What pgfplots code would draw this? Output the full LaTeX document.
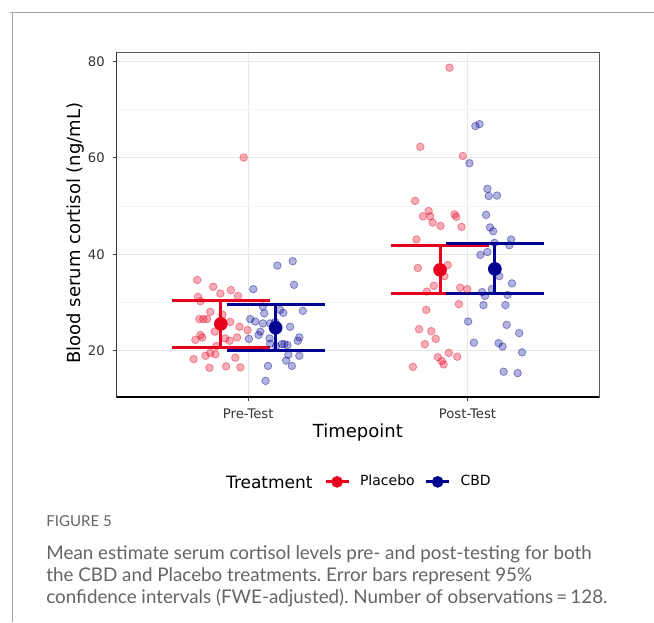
\documentclass[border=0pt]{standalone}
\usepackage{fontspec}
\setmainfont{DejaVu Sans}
\newfontfamily\capfont{Lato}
\usepackage{pgfplots}
\usepackage{pgfplotstable}
\pgfplotsset{compat=1.18}
\frenchspacing

\definecolor{plac}{RGB}{230,0,30}
\definecolor{cbd}{RGB}{0,0,145}
\definecolor{gridc}{RGB}{232,232,232}
\definecolor{capgray}{RGB}{100,100,100}

\pgfplotsset{
  placleg/.style={legend image code/.code={
    \draw[plac, line width=1.45pt] (0pt,0pt) -- (11.5pt,0pt);
    \fill[plac] (5.75pt,0pt) circle (2.7pt);}},
  cbdleg/.style={legend image code/.code={
    \draw[cbd, line width=1.45pt] (0pt,0pt) -- (11.5pt,0pt);
    \fill[cbd] (5.75pt,0pt) circle (2.7pt);}},
  ebar/.style={line width=1.5pt, line cap=butt, forget plot, #1},
}

\pgfplotstableread{
x y
0.767 34.7
0.840 33.3
0.873 31.9
0.921 32.6
0.953 31.4
0.771 31.2
0.827 28.1
0.777 26.6
0.795 26.6
0.812 26.6
0.847 24.0
0.960 25.0
0.997 24.3
0.782 23.3
0.790 22.8
0.759 22.3
0.895 22.6
0.915 22.1
0.949 22.8
0.827 19.6
0.805 19.0
0.850 19.3
0.751 18.3
0.941 18.6
0.823 16.5
0.899 16.8
0.964 16.6
0.979 60.1
0.882 27.5
0.855 21.0
0.782 30.3
0.918 26.0
1.918 78.7
1.785 62.3
1.979 60.4
1.761 51.1
1.823 49.0
1.797 47.9
1.830 47.9
1.841 46.6
1.877 45.9
1.941 48.3
1.949 47.8
1.973 45.7
1.767 43.1
1.774 37.2
1.910 37.8
1.847 33.5
1.815 32.3
1.967 33.1
1.999 32.8
1.961 29.7
1.812 28.5
1.779 24.5
1.835 24.1
1.855 22.5
1.805 21.4
1.915 19.6
1.865 18.7
1.953 18.8
1.883 17.9
1.891 17.2
1.751 16.7
1.895 35.5
}\placpts

\pgfplotstableread{
x y
1.133 37.7
1.203 38.6
1.209 33.7
1.023 32.8
1.067 29.2
1.073 27.8
1.160 27.9
1.249 28.3
1.009 26.6
1.032 26.1
1.067 25.7
1.100 25.7
1.055 24.0
1.047 23.3
1.097 22.6
1.003 22.5
1.233 22.8
1.226 22.1
1.153 21.4
1.165 21.4
1.179 21.2
1.127 21.0
1.183 19.2
1.233 19.0
1.173 18.0
1.199 16.9
1.090 16.9
1.079 13.8
1.123 26.0
1.145 28.5
1.100 21.5
1.191 25.0
2.036 66.6
2.055 67.0
2.009 58.9
2.091 53.6
2.097 52.1
2.135 52.2
2.085 48.2
2.103 45.6
2.117 44.8
2.199 43.1
2.191 41.9
2.123 42.4
2.059 39.9
2.203 34.0
2.111 32.8
2.067 32.2
2.080 31.4
2.183 31.6
2.073 29.5
2.173 29.5
2.003 26.1
2.179 25.4
2.236 23.7
2.029 21.7
2.142 21.6
2.160 20.9
2.249 19.7
2.165 15.7
2.229 15.4
2.123 37.5
2.145 35.5
2.091 40.5
}\cbdpts

% estimated means (95% CI drawn below)
\pgfplotstableread{
x y
0.875 25.6
1.875 36.8
}\placmean
\pgfplotstableread{
x y
1.125 24.8
2.125 37.0
}\cbdmean

\begin{document}
\begin{tikzpicture}
\useasboundingbox (0,0) rectangle (327pt,-311pt);
\draw[black!35, line width=0.5pt] (5pt,-6pt) -- (327pt,-6pt);
\draw[black!35, line width=0.5pt] (6pt,-6pt) -- (6pt,-311pt);

\begin{axis}[
    at={(58.35pt,-198.5pt)}, anchor=south west,
    scale only axis,
    width=241.15pt, height=172.5pt,
    xmin=0.4, xmax=2.6,
    ymin=10.45, ymax=81.95,
    xtick={1,2}, xticklabels={Pre-Test,Post-Test},
    ytick={20,40,60,80},
    minor ytick={30,50,70},
    xmajorgrids, ymajorgrids, yminorgrids,
    major grid style={gridc, line width=0.5pt},
    minor grid style={gridc!50, line width=0.5pt},
    minor tick length=0pt,
    tick align=outside, major tick length=2pt,
    xtick pos=left, ytick pos=left,
    tick style={black!75, line width=0.5pt},
    axis line style={black!65, line width=0.5pt},
    tick label style={font=\fontsize{6.6}{7}\selectfont, text=black!80},
    /pgf/number format/assume math mode=true,
    xticklabel style={anchor=center, yshift=-6.2pt},
    yticklabel style={anchor=east, inner sep=0pt, xshift=-3.8pt},
    xlabel={Timepoint},
    ylabel={Blood serum cortisol (ng/mL)},
    label style={font=\fontsize{9}{10}\selectfont},
    xlabel style={at={(axis description cs:0.5,0)}, anchor=center, yshift=-18pt},
    ylabel style={at={(axis description cs:0,0.475)}, anchor=center, yshift=20.5pt},
    legend style={at={(0.607,-0.246)}, anchor=center, draw=none, fill=none,
        legend columns=-1, font=\fontsize{7}{8}\selectfont,
        /tikz/every odd column/.append style={column sep=3pt},
        /tikz/every even column/.append style={column sep=3pt}},
]
\addplot[only marks, mark=*, mark size=1.9pt,
    mark options={draw=plac, fill=plac, fill opacity=0.32, draw opacity=0.4}, forget plot]
    table[x=x, y=y] {\placpts};
\addplot[only marks, mark=*, mark size=1.9pt,
    mark options={draw=cbd, fill=cbd, fill opacity=0.3, draw opacity=0.4}, forget plot]
    table[x=x, y=y] {\cbdpts};

% Placebo: 95% CI and mean
\addplot[ebar=plac] coordinates {(0.875,20.7) (0.875,30.5)};
\addplot[ebar=plac] coordinates {(0.6515,20.7) (1.0985,20.7)};
\addplot[ebar=plac] coordinates {(0.6515,30.5) (1.0985,30.5)};
\addplot[ebar=plac] coordinates {(1.875,31.9) (1.875,41.8)};
\addplot[ebar=plac] coordinates {(1.6515,31.9) (2.0985,31.9)};
\addplot[ebar=plac] coordinates {(1.6515,41.8) (2.0985,41.8)};
\addplot[only marks, mark=*, mark size=3.2pt, mark options={draw=plac, fill=plac}, forget plot]
    table[x=x, y=y] {\placmean};

% CBD: 95% CI and mean
\addplot[ebar=cbd] coordinates {(1.125,20.0) (1.125,29.6)};
\addplot[ebar=cbd] coordinates {(0.9015,20.0) (1.3485,20.0)};
\addplot[ebar=cbd] coordinates {(0.9015,29.6) (1.3485,29.6)};
\addplot[ebar=cbd] coordinates {(2.125,31.9) (2.125,42.2)};
\addplot[ebar=cbd] coordinates {(1.9015,31.9) (2.3485,31.9)};
\addplot[ebar=cbd] coordinates {(1.9015,42.2) (2.3485,42.2)};
\addplot[only marks, mark=*, mark size=3.2pt, mark options={draw=cbd, fill=cbd}, forget plot]
    table[x=x, y=y] {\cbdmean};

\draw[black, line width=0.6pt] (rel axis cs:0,0) -- (rel axis cs:0,1);
\draw[black, line width=0.6pt] (rel axis cs:0,0) -- (rel axis cs:1,0);

\addlegendimage{placleg}
\addlegendentry{Placebo}
\addlegendimage{cbdleg}
\addlegendentry{CBD}
\end{axis}

\node[anchor=east, inner sep=0pt, font=\fontsize{8.5}{10}\selectfont] at (156.5pt,-241pt) {Treatment};

\begin{scope}[every node/.style={anchor=base west, inner sep=0pt, text=capgray}]
\node[font=\capfont\fontsize{7.5}{9}\selectfont] at (23pt,-263pt) {FIGURE 5};
\node[font=\capfont\fontsize{9.4}{11}\selectfont] at (23pt,-279.6pt) {Mean estimate serum cortisol levels pre- and post-testing for both};
\node[font=\capfont\fontsize{9.4}{11}\selectfont] at (23pt,-290.8pt) {the CBD and Placebo treatments. Error bars represent 95\%};
\node[font=\capfont\fontsize{9.4}{11}\selectfont] at (23pt,-301.8pt) {confidence intervals (FWE-adjusted). Number of observations\,=\,128.};
\end{scope}
\end{tikzpicture}
\end{document}
